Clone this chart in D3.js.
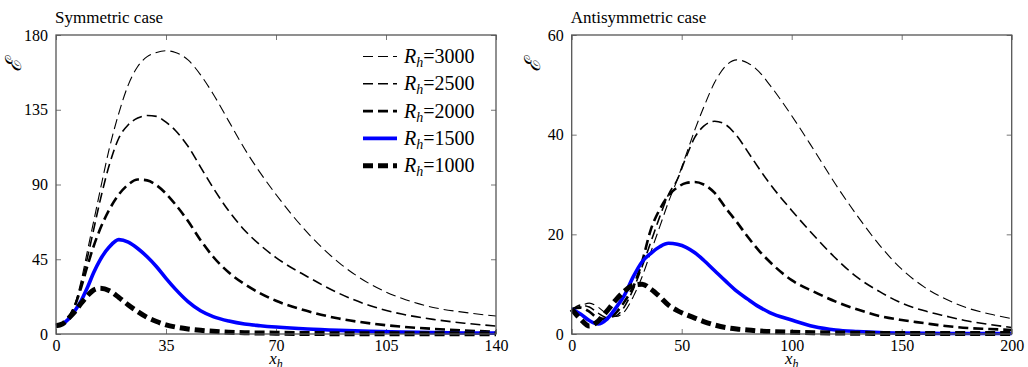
<!DOCTYPE html>
<html>
<head>
<meta charset="utf-8">
<script src="https://cdn.jsdelivr.net/npm/d3@7"></script>
<style>
  body { margin: 0; background: #fff; }
  svg { display: block; }
  svg text { font-family: "Liberation Serif", "DejaVu Serif", serif; }
</style>
</head>
<body>
<div id="chart"></div>
<script>
// Reynolds numbers, in legend / drawing order
const reynolds = [3000, 2500, 2000, 1500, 1000];

// symmetric case
const symX = [0, 2, 4, 6, 8, 10, 12, 14, 17, 20, 23, 26, 29, 32, 35, 38, 42, 46, 50, 55, 60, 65, 70, 80, 90, 100, 110, 120, 130, 140];
const sym3000 = [5, 6, 10, 18, 32, 50, 68, 86, 112, 133, 150, 161, 167, 169.5, 170.5, 169.5, 165, 156, 144.5, 128, 111.5, 97, 84, 61, 43, 30, 21.5, 16, 13, 10.8];
const sym2500 = [5, 6, 10, 17, 30, 46, 63, 80, 102, 118, 126, 130, 131.5, 131, 127.5, 122.5, 113, 100.5, 88, 74, 62.5, 53.5, 46, 34.5, 24.5, 17, 12, 8.8, 6.5, 4.8];
const sym2000 = [5, 6, 10, 17, 28, 41, 53, 63, 75, 84, 90, 93, 92.5, 89.5, 84.5, 78, 68, 56.5, 46.5, 37, 30, 24.5, 20, 13.8, 9.3, 6.4, 4.4, 3.1, 2.1, 1.4];
const sym1500 = [5, 6, 9, 14, 20, 28, 37, 44.5, 52.5, 56.8, 55.3, 51.5, 46.5, 40.5, 33.5, 27, 19.5, 14, 10.5, 7.8, 6, 5, 4.2, 3, 2.2, 1.6, 1.1, 0.8, 0.6, 0.5];
const sym1000 = [5, 6, 9.5, 13.5, 18.5, 23, 26.5, 27.5, 26, 22, 17.5, 13.5, 10, 7.5, 5.5, 4.2, 3, 2.2, 1.6, 1.1, 0.8, 0.6, 0.5, 0.3, 0.2, 0.15, 0.1, 0.1, 0.1, 0.1];

// antisymmetric case
const antiX = [0, 4, 8, 12, 16, 20, 24, 28, 32, 36, 40, 44, 48, 52, 56, 60, 65, 70, 75, 80, 85, 90, 100, 110, 120, 130, 140, 150, 160, 170, 180, 190, 200];
const anti3000 = [4.5, 5.6, 6.2, 5.4, 4, 3.5, 4.5, 7.5, 11.5, 16.5, 21.5, 26.5, 31, 36, 41, 45.5, 50.5, 53.8, 55, 54.4, 52.7, 50, 43.8, 37, 30, 23.6, 17.8, 13, 9.5, 7, 5.2, 4, 3.1];
const anti2500 = [4.8, 5.8, 5.4, 4.2, 3.3, 3.6, 5.5, 9, 13.5, 18.5, 23.5, 28, 31, 35.5, 39.5, 41.7, 42.7, 42, 39.8, 36.6, 33.3, 30.2, 24.8, 19.8, 15.2, 11.3, 8.5, 6.2, 4.7, 3.6, 2.6, 1.9, 1.3];
const anti2000 = [5, 5.3, 4.5, 3.2, 3, 4.2, 6.5, 9.5, 14.5, 21, 25, 27.8, 29.4, 30.3, 30.5, 30, 28.3, 25.3, 22.5, 19.5, 16.8, 14.5, 10.8, 8.5, 6.5, 4.9, 3.6, 2.8, 2.2, 1.6, 1.2, 1.0, 0.8];
const anti1500 = [5, 4, 2.7, 2, 3, 5.2, 7.8, 11.5, 14.5, 16.2, 17.5, 18.2, 18, 17.4, 16.3, 14.8, 12.7, 10.6, 8.6, 7, 5.5, 4.3, 2.8, 1.5, 0.8, 0.5, 0.3, 0.2, 0.15, 0.1, 0.1, 0.1, 0.1];
const anti1000 = [5, 3, 1.6, 2.6, 4.6, 6.8, 8.6, 9.8, 10, 9, 7.5, 5.8, 4.7, 3.9, 3.2, 2.5, 1.8, 1.3, 1.0, 0.8, 0.6, 0.5, 0.35, 0.25, 0.2, 0.15, 0.1, 0.1, 0.1, 0.1, 0.1, 0.1, 0.1];

const symTicksX = [0, 35, 70, 105, 140];
const symTicksY = [0, 45, 90, 135, 180];
const antiTicksX = [0, 50, 100, 150, 200];
const antiTicksY = [0, 20, 40, 60];

const width = 1028, height = 367;

// line look per Reynolds number
const styles = {
  3000: { color: "#000", w: 1.1, dash: "10,5" },
  2500: { color: "#000", w: 1.6, dash: "10,5" },
  2000: { color: "#000", w: 2.6, dash: "10,5" },
  1500: { color: "#0000ff", w: 3.6, dash: null },
  1000: { color: "#000", w: 5, dash: "10,5" }
};

const svg = d3.select("#chart").append("svg")
  .attr("width", width).attr("height", height);

function panel(opt) {
  const x = d3.scaleLinear().domain(opt.xDomain).range([opt.left, opt.right]);
  const y = d3.scaleLinear().domain(opt.yDomain).range([opt.bottom, opt.top]);
  const g = svg.append("g");

  const axes = [
    [d3.axisBottom(x).tickValues(opt.xTicks).tickSize(-5).tickPadding(6), `translate(0,${opt.bottom})`],
    [d3.axisTop(x).tickValues(opt.xTicks).tickSize(-5).tickFormat(""), `translate(0,${opt.top})`],
    [d3.axisLeft(y).tickValues(opt.yTicks).tickSize(-5).tickPadding(8), `translate(${opt.left},0)`],
    [d3.axisRight(y).tickValues(opt.yTicks).tickSize(-5).tickFormat(""), `translate(${opt.right},0)`]
  ];
  axes.forEach(([ax, tr]) => {
    const a = g.append("g").attr("transform", tr).call(ax)
      .attr("font-family", null).attr("font-size", 16);
    a.select(".domain").remove();
    a.selectAll("line").attr("stroke", "#777");
    a.selectAll("text").attr("fill", "#000");
  });

  const line = d3.line()
    .x(d => x(d[0])).y(d => y(d[1]))
    .curve(d3.curveMonotoneX);

  opt.series.forEach(s => {
    const st = styles[s.re];
    g.append("path")
      .datum(opt.xs.map((v, i) => [v, s.values[i]]))
      .attr("d", line)
      .attr("fill", "none")
      .attr("stroke", st.color)
      .attr("stroke-width", st.w)
      .attr("stroke-dasharray", st.dash);
  });

  // frame
  g.append("rect")
    .attr("x", opt.left).attr("y", opt.top)
    .attr("width", opt.right - opt.left).attr("height", opt.bottom - opt.top)
    .attr("fill", "none").attr("stroke", "#555").attr("stroke-width", 1.3);

  g.append("text")
    .attr("x", opt.left - 1).attr("y", 23)
    .attr("font-size", 17)
    .text(opt.title);

  // y label, script E
  g.append("text")
    .attr("transform", `translate(${opt.yLabelX},65) rotate(-90)`)
    .attr("text-anchor", "middle")
    .attr("dominant-baseline", "central")
    .attr("font-size", 22)
    .attr("font-style", "italic")
    .text("\u2130");

  // x label
  const xl = g.append("text")
    .attr("x", (opt.left + opt.right) / 2).attr("y", 364)
    .attr("text-anchor", "middle")
    .attr("font-size", 17)
    .attr("font-style", "italic");
  xl.append("tspan").text("x");
  xl.append("tspan").attr("dy", 4).attr("font-size", 12).text("h");

  return { x, y, g };
}

panel({
  left: 56, right: 496, top: 35, bottom: 334, yLabelX: 13,
  xDomain: [0, 140], yDomain: [0, 180],
  xTicks: symTicksX, yTicks: symTicksY,
  title: "Symmetric case",
  xs: symX,
  series: [
    { re: 3000, values: sym3000 },
    { re: 2500, values: sym2500 },
    { re: 2000, values: sym2000 },
    { re: 1500, values: sym1500 },
    { re: 1000, values: sym1000 }
  ]
});

panel({
  left: 571.7, right: 1011.7, top: 35, bottom: 334, yLabelX: 532,
  xDomain: [0, 200], yDomain: [0, 60],
  xTicks: antiTicksX, yTicks: antiTicksY,
  title: "Antisymmetric case",
  xs: antiX,
  series: [
    { re: 3000, values: anti3000 },
    { re: 2500, values: anti2500 },
    { re: 2000, values: anti2000 },
    { re: 1500, values: anti1500 },
    { re: 1000, values: anti1000 }
  ]
});

// legend in the left panel
const legend = svg.append("g").attr("transform", "translate(363,63)");
reynolds.forEach((re, i) => {
  const st = styles[re];
  const row = legend.append("g").attr("transform", `translate(0,${i * 27.3})`);
  row.append("line")
    .attr("x1", 0).attr("x2", 34).attr("y1", -6.5).attr("y2", -6.5)
    .attr("stroke", st.color).attr("stroke-width", st.w)
    .attr("stroke-dasharray", st.dash);
  const t = row.append("text").attr("x", 41).attr("font-size", 20);
  t.append("tspan").attr("font-style", "italic").text("R");
  t.append("tspan").attr("font-style", "italic").attr("font-size", 14).attr("dy", 4).text("h");
  t.append("tspan").attr("dy", -4).text("=" + re);
});
</script>
</body>
</html>
